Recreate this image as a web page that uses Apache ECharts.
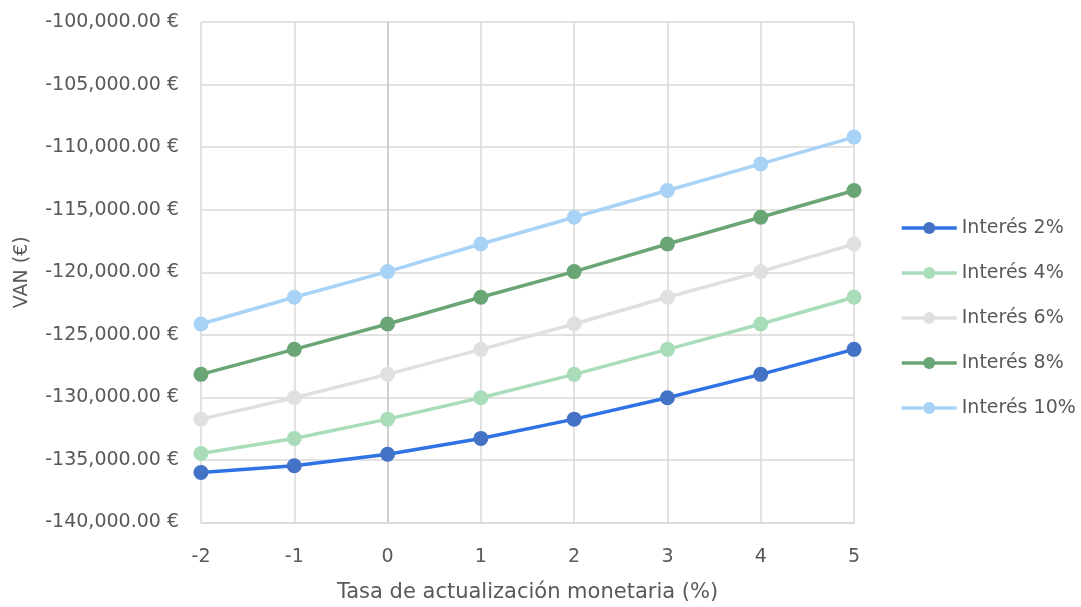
<!DOCTYPE html>
<html>
<head>
<meta charset="utf-8">
<script src="https://cdn.jsdelivr.net/npm/echarts@6/dist/echarts.min.js"></script>
<style>html,body{margin:0;padding:0;background:#fff}#c{width:1081px;height:607px}</style>
</head>
<body>
<div id="c"></div>
<script>
const xValues = [-2, -1, 0, 1, 2, 3, 4, 5];
const seriesNames = ['Interés 2%', 'Interés 4%', 'Interés 6%', 'Interés 8%', 'Interés 10%'];
const interes2 = [-136000, -135470, -134540, -133280, -131740, -130030, -128160, -126160];
const interes4 = [-134480, -133280, -131740, -130030, -128160, -126160, -124140, -122000];
const interes6 = [-131740, -130030, -128160, -126160, -124140, -122000, -119950, -117740];
const interes8 = [-128160, -126160, -124140, -122000, -119950, -117740, -115600, -113470];
const interes10 = [-124140, -122000, -119950, -117740, -115600, -113470, -111340, -109200];
const seriesValues = [interes2, interes4, interes6, interes8, interes10];
const lineColors = ['#2F72E4', '#A9DDB9', '#E0E0E0', '#6AA575', '#A8D3F7'];
const markerColors = ['#4472C4', '#A9DDB9', '#E0E0E0', '#6AA575', '#A8D3F7'];

const FONT = 'DejaVu Sans';
const TXT = '#595959';

function fmt(v) {
  const neg = v < 0;
  const s = Math.abs(v).toFixed(2);
  const [ip, dp] = s.split('.');
  const withCommas = ip.replace(/\B(?=(\d{3})+(?!\d))/g, ',');
  return (neg ? '-' : '') + withCommas + '.' + dp + ' €';
}

const chart = echarts.init(document.getElementById('c'));
chart.setOption({
  animation: false,
  backgroundColor: '#fff',
  grid: { left: 201, right: 227, top: 22, bottom: 84.5, containLabel: false, outerBoundsMode: 'none' },
  xAxis: {
    type: 'value', min: -2, max: 5, interval: 1,
    name: 'Tasa de actualización monetaria (%)',
    nameLocation: 'middle', nameGap: 60,
    nameTextStyle: { fontFamily: FONT, fontSize: 21, color: TXT },
    axisLine: { show: true, onZero: false, lineStyle: { color: '#D9D9D9', width: 1.5 } },
    axisTick: { show: false },
    axisLabel: { fontFamily: FONT, fontSize: 19, color: TXT, margin: 25 },
    splitLine: { show: true, lineStyle: { color: ['#D9D9D9', '#D9D9D9', '#BFBFBF', '#D9D9D9', '#D9D9D9', '#D9D9D9', '#D9D9D9', '#D9D9D9'], width: 1.5 } }
  },
  yAxis: {
    type: 'value', min: -140000, max: -100000, interval: 5000,
    name: 'VAN (€)',
    nameLocation: 'middle', nameGap: 169,
    nameTextStyle: { fontFamily: FONT, fontSize: 19, color: TXT },
    axisLine: { show: false },
    axisTick: { show: false },
    axisLabel: { fontFamily: FONT, fontSize: 19, color: TXT, margin: 22, formatter: fmt },
    splitLine: { show: true, lineStyle: { color: '#D9D9D9', width: 1.5 } }
  },
  legend: {
    orient: 'vertical', left: 900, top: 218, padding: 0,
    itemWidth: 55, itemHeight: 15, itemGap: 25,
    lineStyle: { width: 3.5 },
    textStyle: { fontFamily: FONT, fontSize: 19, color: TXT, lineHeight: 20 },
    data: seriesNames
  },
  series: seriesNames.map((name, i) => ({
    name: name,
    type: 'line',
    data: xValues.map((x, j) => [x, seriesValues[i][j]]),
    symbol: 'circle', symbolSize: 15,
    lineStyle: { color: lineColors[i], width: 3.5 },
    itemStyle: { color: markerColors[i] },
    z: 10 - i
  }))
});
</script>
</body>
</html>
